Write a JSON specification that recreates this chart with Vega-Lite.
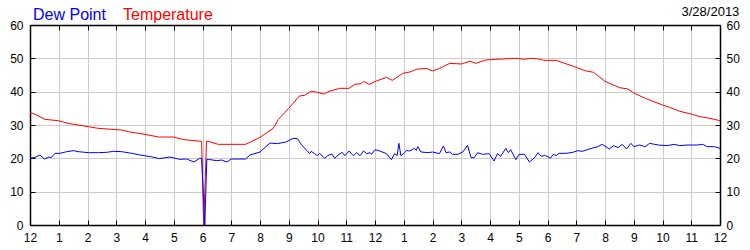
{
  "$schema": "https://vega.github.io/schema/vega-lite/v6.json",
  "width": 690,
  "height": 200,
  "autosize": {"type": "none"},
  "padding": {"left": 30, "top": 25, "right": 30, "bottom": 25},
  "background": "white",
  "config": {
    "font": "Liberation Sans",
    "view": {"stroke": null},
    "axis": {
      "domainColor": "#000000",
      "domainWidth": 1.5,
      "tickColor": "#000000",
      "tickSize": -5,
      "tickWidth": 1,
      "labelFont": "Liberation Sans",
      "labelFontSize": 12,
      "labelColor": "#000000",
      "title": null,
      "gridColor": "#cccccc",
      "gridWidth": 1,
      "gridOpacity": 1
    }
  },
  "title": {
    "text": "3/28/2013",
    "anchor": "end",
    "fontSize": 13,
    "fontWeight": "normal",
    "font": "Liberation Sans",
    "color": "#000000",
    "offset": 6,
    "dy": 26
  },
  "datasets": {
    "temp": [
      {"h": 0, "v": 33.8}, {"h": 0.23, "v": 33}, {"h": 0.52, "v": 31.7}, {"h": 0.97, "v": 31.3},
      {"h": 1.32, "v": 30.5}, {"h": 1.67, "v": 30}, {"h": 2.03, "v": 29.5}, {"h": 2.37, "v": 29},
      {"h": 2.84, "v": 28.7}, {"h": 3.19, "v": 28.5}, {"h": 3.42, "v": 28}, {"h": 3.77, "v": 27.5},
      {"h": 4.0, "v": 27.2}, {"h": 4.47, "v": 26.4}, {"h": 5.0, "v": 26.4}, {"h": 5.3, "v": 25.7},
      {"h": 5.57, "v": 25.4}, {"h": 5.97, "v": 25.1}, {"h": 6.04, "v": 0}, {"h": 6.14, "v": 25.1},
      {"h": 6.2, "v": 25.1}, {"h": 6.55, "v": 24.2}, {"h": 7.5, "v": 24.2}, {"h": 8.0, "v": 26.3},
      {"h": 8.46, "v": 29}, {"h": 8.64, "v": 31.7}, {"h": 9.0, "v": 35}, {"h": 9.37, "v": 38.7},
      {"h": 9.55, "v": 38.9}, {"h": 9.78, "v": 40.1}, {"h": 10.0, "v": 39.8}, {"h": 10.23, "v": 39.3},
      {"h": 10.4, "v": 40.1}, {"h": 10.77, "v": 41}, {"h": 11.1, "v": 41}, {"h": 11.3, "v": 42.2},
      {"h": 11.52, "v": 42.4}, {"h": 11.6, "v": 43.1}, {"h": 11.8, "v": 42.2}, {"h": 12.05, "v": 43.2},
      {"h": 12.4, "v": 44.3}, {"h": 12.6, "v": 43.4}, {"h": 12.97, "v": 45.5}, {"h": 13.26, "v": 46},
      {"h": 13.43, "v": 46.7}, {"h": 13.78, "v": 47}, {"h": 14.0, "v": 46.2}, {"h": 14.25, "v": 47},
      {"h": 14.6, "v": 48.5}, {"h": 15.0, "v": 48.3}, {"h": 15.3, "v": 49.1}, {"h": 15.5, "v": 48.5},
      {"h": 15.85, "v": 49.5}, {"h": 16.2, "v": 49.7}, {"h": 16.9, "v": 50}, {"h": 17.2, "v": 49.7},
      {"h": 17.4, "v": 50}, {"h": 17.7, "v": 49.8}, {"h": 17.87, "v": 49.4}, {"h": 18.3, "v": 49.4},
      {"h": 19.0, "v": 47.3}, {"h": 19.3, "v": 46.3}, {"h": 19.6, "v": 45.8}, {"h": 19.8, "v": 44.5},
      {"h": 20.0, "v": 43.1}, {"h": 20.5, "v": 41.2}, {"h": 20.8, "v": 40.8}, {"h": 21.0, "v": 39.6},
      {"h": 21.4, "v": 38}, {"h": 22.0, "v": 36}, {"h": 22.25, "v": 35.3}, {"h": 22.6, "v": 34.1},
      {"h": 23.0, "v": 33.3}, {"h": 23.3, "v": 32.5}, {"h": 23.65, "v": 32}, {"h": 24.0, "v": 31.3}
    ],
    "dew": [
      {"h": 0, "v": 20}, {"h": 0.17, "v": 20.3}, {"h": 0.35, "v": 21}, {"h": 0.5, "v": 19.8},
      {"h": 0.64, "v": 20.3}, {"h": 0.75, "v": 20.3}, {"h": 0.87, "v": 21.5}, {"h": 1.04, "v": 21.5},
      {"h": 1.28, "v": 22}, {"h": 1.51, "v": 22.3}, {"h": 1.68, "v": 22}, {"h": 2.03, "v": 21.7},
      {"h": 2.38, "v": 21.7}, {"h": 2.67, "v": 21.8}, {"h": 2.9, "v": 22.1}, {"h": 3.19, "v": 22},
      {"h": 3.54, "v": 21.5}, {"h": 3.83, "v": 21}, {"h": 4.2, "v": 20.5}, {"h": 4.5, "v": 19.9},
      {"h": 4.87, "v": 20.4}, {"h": 5.2, "v": 19.7}, {"h": 5.45, "v": 19.8}, {"h": 5.7, "v": 18.9},
      {"h": 5.9, "v": 20}, {"h": 5.97, "v": 20}, {"h": 6.08, "v": 0}, {"h": 6.15, "v": 19.8},
      {"h": 6.2, "v": 19.7}, {"h": 6.5, "v": 19.3}, {"h": 6.67, "v": 19.5}, {"h": 6.85, "v": 18.9},
      {"h": 7.0, "v": 19.8}, {"h": 7.5, "v": 19.8}, {"h": 7.65, "v": 21}, {"h": 8.0, "v": 21.9},
      {"h": 8.35, "v": 24.6}, {"h": 8.6, "v": 24.4}, {"h": 8.9, "v": 24.9}, {"h": 9.15, "v": 26},
      {"h": 9.3, "v": 25.9}, {"h": 9.45, "v": 24}, {"h": 9.62, "v": 22.4}, {"h": 9.73, "v": 21.4},
      {"h": 9.78, "v": 22.1}, {"h": 9.9, "v": 21.4}, {"h": 10.0, "v": 20.8}, {"h": 10.07, "v": 21.5},
      {"h": 10.25, "v": 20}, {"h": 10.35, "v": 20.8}, {"h": 10.5, "v": 21.3}, {"h": 10.6, "v": 20},
      {"h": 10.75, "v": 21.2}, {"h": 10.86, "v": 21.8}, {"h": 10.95, "v": 20.8}, {"h": 11.1, "v": 22.2},
      {"h": 11.2, "v": 21.2}, {"h": 11.25, "v": 20.8}, {"h": 11.36, "v": 21.7}, {"h": 11.48, "v": 20.8},
      {"h": 11.6, "v": 22.2}, {"h": 11.71, "v": 21.4}, {"h": 11.83, "v": 21.7}, {"h": 11.88, "v": 21.2},
      {"h": 12.0, "v": 22.6}, {"h": 12.17, "v": 22.2}, {"h": 12.4, "v": 21.4}, {"h": 12.57, "v": 19.6},
      {"h": 12.68, "v": 21.4}, {"h": 12.77, "v": 20.8}, {"h": 12.83, "v": 24.5}, {"h": 12.9, "v": 20.8},
      {"h": 13.0, "v": 21.4}, {"h": 13.1, "v": 22.4}, {"h": 13.2, "v": 22.2}, {"h": 13.37, "v": 23},
      {"h": 13.43, "v": 22.4}, {"h": 13.49, "v": 23.5}, {"h": 13.6, "v": 21.9}, {"h": 13.85, "v": 21.7},
      {"h": 14.0, "v": 21.9}, {"h": 14.24, "v": 21.4}, {"h": 14.38, "v": 23.7}, {"h": 14.47, "v": 21.7},
      {"h": 14.6, "v": 21.9}, {"h": 14.7, "v": 21.2}, {"h": 14.88, "v": 21.2}, {"h": 15.05, "v": 21.9},
      {"h": 15.22, "v": 23.9}, {"h": 15.34, "v": 20.2}, {"h": 15.45, "v": 20.2}, {"h": 15.57, "v": 21.7},
      {"h": 15.74, "v": 21.2}, {"h": 15.97, "v": 21.4}, {"h": 16.14, "v": 19.2}, {"h": 16.26, "v": 21.4},
      {"h": 16.37, "v": 20.6}, {"h": 16.55, "v": 23}, {"h": 16.64, "v": 21.7}, {"h": 16.72, "v": 22.6},
      {"h": 16.9, "v": 19.6}, {"h": 17.01, "v": 21.2}, {"h": 17.2, "v": 21.2}, {"h": 17.37, "v": 18.9},
      {"h": 17.55, "v": 20.2}, {"h": 17.67, "v": 21.7}, {"h": 17.78, "v": 20.6}, {"h": 17.9, "v": 20.9},
      {"h": 18.05, "v": 20.3}, {"h": 18.1, "v": 20}, {"h": 18.2, "v": 21.2}, {"h": 18.3, "v": 20.8},
      {"h": 18.4, "v": 21.5}, {"h": 18.65, "v": 21.5}, {"h": 18.88, "v": 21.8}, {"h": 19.05, "v": 22.3},
      {"h": 19.22, "v": 22.1}, {"h": 19.45, "v": 22.8}, {"h": 19.75, "v": 23.5}, {"h": 19.9, "v": 24.2},
      {"h": 20.15, "v": 22.8}, {"h": 20.3, "v": 23.8}, {"h": 20.45, "v": 23.2}, {"h": 20.6, "v": 24.2},
      {"h": 20.75, "v": 22.8}, {"h": 20.9, "v": 24.5}, {"h": 21.0, "v": 23.5}, {"h": 21.2, "v": 24},
      {"h": 21.4, "v": 23.5}, {"h": 21.55, "v": 24.5}, {"h": 21.85, "v": 24}, {"h": 22.15, "v": 23.8},
      {"h": 22.4, "v": 24.2}, {"h": 22.6, "v": 23.8}, {"h": 22.85, "v": 24}, {"h": 23.2, "v": 24},
      {"h": 23.4, "v": 24.2}, {"h": 23.55, "v": 23.5}, {"h": 23.8, "v": 23.5}, {"h": 24.0, "v": 23}
    ]
  },
  "layer": [
    {
      "data": {"name": "temp"},
      "mark": {"type": "line", "strokeWidth": 1, "clip": true},
      "encoding": {
        "x": {
          "field": "h", "type": "quantitative",
          "scale": {"domain": [0, 24], "nice": false, "zero": false},
          "axis": {"orient": "top", "values": [0,1,2,3,4,5,6,7,8,9,10,11,12,13,14,15,16,17,18,19,20,21,22,23,24], "labels": false, "grid": false}
        },
        "y": {
          "field": "v", "type": "quantitative",
          "scale": {"domain": [0, 60], "nice": false},
          "axis": {"orient": "right", "values": [0,10,20,30,40,50,60], "grid": false, "labelPadding": 11}
        },
        "color": {"datum": "Temperature"}
      }
    },
    {
      "data": {"name": "dew"},
      "mark": {"type": "line", "strokeWidth": 1, "clip": true},
      "encoding": {
        "x": {
          "field": "h", "type": "quantitative",
          "scale": {"domain": [0, 24], "nice": false, "zero": false},
          "axis": {"orient": "bottom", "values": [0,1,2,3,4,5,6,7,8,9,10,11,12,13,14,15,16,17,18,19,20,21,22,23,24], "labelExpr": "datum.value % 12 == 0 ? '12' : '' + (datum.value % 12)", "grid": true, "labelPadding": 12, "labelFlush": false, "labelOverlap": false}
        },
        "y": {
          "field": "v", "type": "quantitative",
          "scale": {"domain": [0, 60], "nice": false},
          "axis": {"orient": "left", "values": [0,10,20,30,40,50,60], "grid": true, "labelPadding": 12}
        },
        "color": {
          "datum": "Dew Point",
          "scale": {"domain": ["Dew Point", "Temperature"], "range": ["#0000ff", "#ff0000"]},
          "legend": {
            "orient": "none",
            "legendX": -13,
            "legendY": -26,
            "direction": "horizontal",
            "title": null,
            "padding": 0,
            "symbolSize": 0,
            "symbolOpacity": 0,
            "symbolStrokeWidth": 0,
            "labelOffset": 0,
            "labelFontSize": 16,
            "labelFont": "Liberation Sans",
            "labelBaseline": "top",
            "labelLimit": 0,
            "columnPadding": 1,
            "encode": {"labels": {"update": {"fill": {"signal": "datum.value === 'Dew Point' ? '#0000ff' : '#ff0000'"}}}}
          }
        }
      }
    }
  ],
  "resolve": {"axis": {"x": "independent", "y": "independent"}}
}
